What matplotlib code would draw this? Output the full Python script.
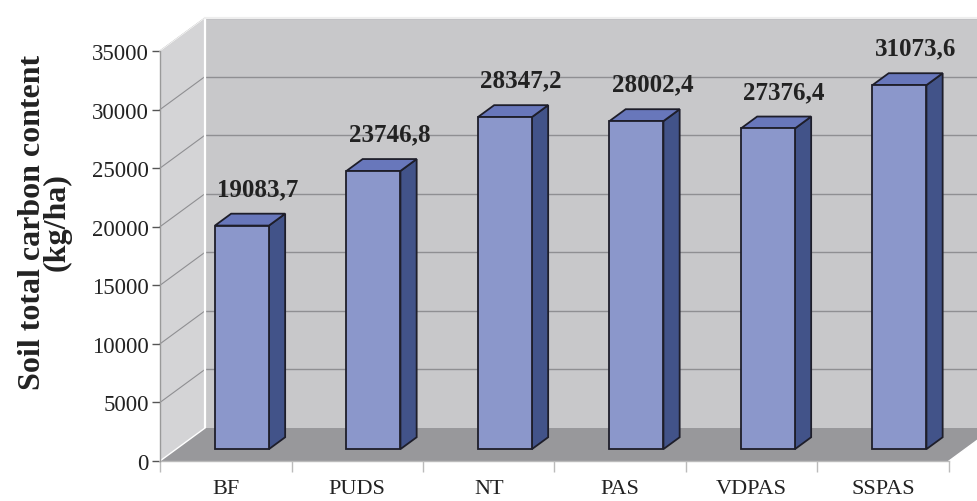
import matplotlib
matplotlib.use("Agg")
import matplotlib.pyplot as plt
from matplotlib.patches import Polygon

categories = ["BF", "PUDS", "NT", "PAS", "VDPAS", "SSPAS"]
values = [19083.7, 23746.8, 28347.2, 28002.4, 27376.4, 31073.6]
value_labels = ["19083,7", "23746,8", "28347,2", "28002,4", "27376,4", "31073,6"]
yticks = [0, 5000, 10000, 15000, 20000, 25000, 30000, 35000]
ylabel = "Soil total carbon content\n(kg/ha)"

W, H = 978, 502
fig = plt.figure(figsize=(W / 100, H / 100), dpi=100)
fig.patch.set_facecolor("white")

# front plane pixel box
x0p, x1p, y0p, y1p = 160, 949, 462, 52
ax = fig.add_axes([x0p / W, 1 - y0p / H, (x1p - x0p) / W, (y0p - y1p) / H])
n = len(categories)
ymax = 35000
ax.set_xlim(0, n)
ax.set_ylim(0, ymax)
ax.set_facecolor("none")

# depth offsets in data units (45px right, 33px up)
px_x = n / (x1p - x0p)
px_y = ymax / (y0p - y1p)
DX = 45 * px_x
DY = 33 * px_y

serif = ["Liberation Serif", "DejaVu Serif"]

def poly(pts, fc, ec="none", lw=0.0, z=1):
    p = Polygon(pts, closed=True, facecolor=fc, edgecolor=ec, linewidth=lw,
                zorder=z, clip_on=False, joinstyle="miter")
    ax.add_patch(p)

# walls
side_c = "#d4d4d6"
back_c = "#c8c8ca"
floor_c = "#98989b"
grid_c = "#8f8f92"
poly([(0, 0), (DX, DY), (DX, ymax + DY), (0, ymax)], side_c, z=1)
poly([(DX, DY), (n + DX + 1, DY), (n + DX + 1, ymax + DY), (DX, ymax + DY)], back_c, z=1)
poly([(0, 0), (n, 0), (n + DX, DY), (DX, DY)], floor_c, z=2)

for v in yticks[1:]:
    ax.plot([DX, n + DX + 1], [v + DY, v + DY], color=grid_c, lw=1.0, zorder=1.5, clip_on=False)
    ax.plot([0, DX], [v, v + DY], color=grid_c, lw=0.8, zorder=1.5, clip_on=False)

# light wall edges
ax.plot([DX, DX], [DY, ymax + DY], color="white", lw=1.6, zorder=1.6, clip_on=False)
ax.plot([DX, n + DX + 1], [ymax + DY, ymax + DY], color="#eeeeee", lw=1.6, zorder=1.6, clip_on=False)
ax.plot([0, DX], [ymax, ymax + DY], color="#eeeeee", lw=1.0, zorder=1.6, clip_on=False)
ax.plot([0, DX], [0, DY], color="white", lw=1.0, zorder=2.1, clip_on=False)
ax.plot([n, n + DX], [0, DY], color="white", lw=1.0, zorder=2.1, clip_on=False)

# bars
bw = 54 * px_x
f, b = 0.36, 0.72
front_c, top_c, sidebar_c, edge_c = "#8b97cb", "#6877bb", "#425389", "#1e1e2a"
for i, (v, lab) in enumerate(zip(values, value_labels)):
    c = i + 0.5
    xl_f, xr_f = c - bw / 2 + f * DX, c + bw / 2 + f * DX
    xl_b, xr_b = c - bw / 2 + b * DX, c + bw / 2 + b * DX
    yf, yb = f * DY, b * DY
    poly([(xr_f, yf), (xr_b, yb), (xr_b, v + yb), (xr_f, v + yf)], sidebar_c, edge_c, 1.3, z=3)
    poly([(xl_f, v + yf), (xr_f, v + yf), (xr_b, v + yb), (xl_b, v + yb)], top_c, edge_c, 1.3, z=3)
    poly([(xl_f, yf), (xr_f, yf), (xr_f, v + yf), (xl_f, v + yf)], front_c, edge_c, 1.3, z=4)
    ax.text(c + b * DX, v + yb + 25 * px_y, lab, ha="center", va="center",
            fontsize=18, fontweight="bold", family=serif, color="#222222", zorder=5)

# axes styling
for s in ["top", "right", "bottom"]:
    ax.spines[s].set_visible(False)
ax.spines["left"].set_color("#9a9a9a")
ax.spines["left"].set_linewidth(1.0)
ax.spines["left"].set_zorder(2.5)
ax.set_yticks(yticks)
ax.set_yticklabels([str(t) for t in yticks], family=serif, fontsize=16.5, color="#222222")
ax.tick_params(axis="y", direction="out", length=6, width=1, color="#555555", pad=2)

ax.set_xticks(list(range(n + 1)))
ax.set_xticklabels([""] * (n + 1))
ax.tick_params(axis="x", which="major", direction="out", length=8, width=1, color="#bbbbbb")
ax.set_xticks([i + 0.5 for i in range(n)], minor=True)
ax.set_xticklabels(categories, minor=True, family=serif, fontsize=16, color="#222222")
ax.tick_params(axis="x", which="minor", length=0, pad=13)
ax.plot([0, n], [0, 0], color="#bbbbbb", lw=1.0, zorder=2.2, clip_on=False)

ax.set_ylabel(ylabel, family=serif, fontsize=23, fontweight="bold", color="#222222",
              linespacing=0.8)
ax.yaxis.set_label_coords((72 - x0p) / (x1p - x0p), (y0p - 222) / (y0p - y1p))

fig.savefig("out.png", dpi=100, facecolor="white")
